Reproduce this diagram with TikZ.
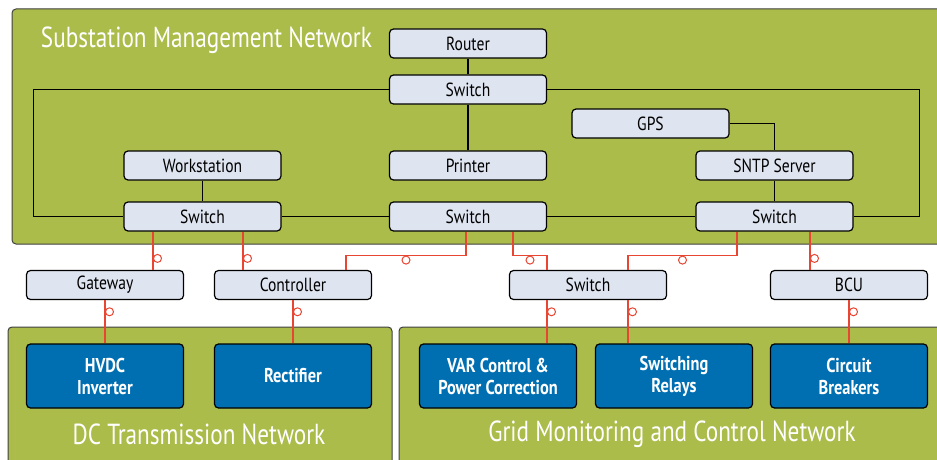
\documentclass[tikz,border=0pt]{standalone}
\usepackage{fontspec}
\setmainfont{PT Sans}[FakeStretch=0.82]
\newfontfamily\areafont{PT Sans}[FakeStretch=0.8]
\usepackage{tikz}
\usetikzlibrary{positioning}

\definecolor{netgreen}{RGB}{171,188,74}
\definecolor{netblue}{RGB}{0,111,178}
\definecolor{boxgray}{RGB}{222,228,240}
\definecolor{netred}{RGB}{232,70,50}

\begin{document}
\begin{tikzpicture}[x=1pt,y=-1pt,line width=1.2pt,
    area/.style={fill=netgreen,draw=black!75,line width=1pt,rounded corners=4pt},
    title/.style={text=white,font=\areafont\fontsize{29}{31}\selectfont},
    dev/.style={draw,fill=boxgray,rounded corners=4pt,minimum width=157pt,minimum height=29pt,
                inner sep=0pt,font=\fontsize{19}{21}\selectfont},
    equip/.style={dev,fill=netblue,text=white,minimum height=64pt,align=center,
                font=\fontsize{20}{22}\selectfont\bfseries},
    link/.style={draw=netred,line width=1.2pt},
    ring/.style={circle,draw=netred,fill=white,line width=1pt,inner sep=0pt,minimum size=8pt}]
        \useasboundingbox (0,0) rectangle (937,460);
        \clip (0,0) rectangle (937,460);
        % network areas
        \draw[area] (12,9) rectangle (960,244);
        \draw[area] (8,327) rectangle (392,480);
        \draw[area] (399,327) rectangle (960,480);
        \node[title,anchor=west] (smn) at (37,40) {Substation Management Network};
        \node[title] (dcn) at (199,434) {DC Transmission Network};
        \node[title] (gmn) at (672,434) {Grid Monitoring and Control Network};
        % substation devices
        \node[dev] (router) at (468,43.5) {Router};
        \node[dev] (swtop) at (468,89.5) {Switch};
        \node[dev] (printer) at (468,165.5) {Printer};
        \node[dev] (swm) at (468,216.5) {Switch};
        \node[dev] (ws) at (202.5,165.5) {Workstation};
        \node[dev] (swl) at (202.5,216.5) {Switch};
        \node[dev] (gps) at (650.5,123.5) {GPS};
        \node[dev] (sntp) at (774.5,165.5) {SNTP Server};
        \node[dev] (swr) at (774.5,216.5) {Switch};
        % field level
        \node[dev] (gateway) at (105,285) {Gateway};
        \node[dev] (ctrl) at (293,285) {Controller};
        \node[dev] (swb) at (588,285) {Switch};
        \node[dev] (bcu) at (849,285) {BCU};
        \node[equip] (hvdc) at (105,376) {HVDC\\Inverter};
        \node[equip] (rect) at (293,376) {Rectifier};
        \node[equip] (var) at (498,376) {VAR Control \&\\Power Correction};
        \node[equip] (relays) at (674,376) {Switching\\Relays};
        \node[equip] (breakers) at (849,376) {Circuit\\Breakers};
        % ethernet
        \draw (router) -- (swtop);
        \draw (swtop) -- (printer);
        \draw (ws) -- (swl);
        \draw (swl) -- (swm);
        \draw (swm) -- (swr);
        \draw (sntp) -- (swr);
        \draw (gps.east) -| (sntp.north);
        \draw (swtop.west) -| ([xshift=-90pt]swl.west) -- (swl.west);
        \draw (swtop.east) -| ([xshift=66pt]swr.east) -- (swr.east);
        % serial links
        \path[link] ([xshift=-49.5pt]swl.south) -- ([xshift=-49.5pt]swl.south |- gateway.north)
                node[ring,pos=.7,anchor=west] {};
        \path[link] ([xshift=40.5pt]swl.south) -- ([xshift=40.5pt]swl.south |- ctrl.north)
                node[ring,pos=.7,anchor=west] {};
        \path[link] ([xshift=-2pt]swm.south) -- ++(0,24) -| node[ring,pos=.25,anchor=north] {}
                ([xshift=53pt]ctrl.north);
        \path[link] ([xshift=45pt]swm.south) -- ++(0,24) -| node[ring,pos=.25,anchor=north] {}
                ([xshift=-41pt]swb.north);
        \path[link] ([xshift=-37.5pt]swr.south) -- ++(0,24) -| node[ring,pos=.25,anchor=north] {}
                ([xshift=40pt]swb.north);
        \path[link] ([xshift=35.5pt]swr.south) -- ([xshift=35.5pt]swr.south |- bcu.north)
                node[ring,pos=.7,anchor=west] {};
        \path[link] (gateway) -- (hvdc) node[ring,pos=.27,anchor=west] {};
        \path[link] (ctrl) -- (rect) node[ring,pos=.27,anchor=west] {};
        \path[link] ([xshift=-41pt]swb.south) -- ([xshift=-41pt]swb.south |- var.north)
                node[ring,pos=.27,anchor=west] {};
        \path[link] ([xshift=40pt]swb.south) -- ([xshift=40pt]swb.south |- relays.north)
                node[ring,pos=.27,anchor=west] {};
        \path[link] (bcu) -- (breakers) node[ring,pos=.27,anchor=west] {};
\end{tikzpicture}
\end{document}
